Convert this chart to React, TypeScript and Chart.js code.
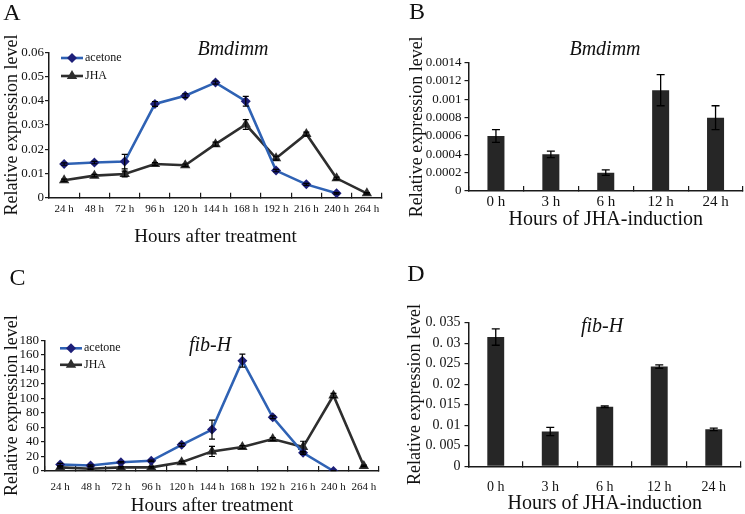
import React, { useEffect, useRef } from 'react';
import { Chart, registerables } from 'chart.js';

Chart.register(...registerables);

const SERIF = "'Liberation Serif', 'Times New Roman', Times, serif";

// ---------- Panel A : Bmdimm, time course ----------
const A_HOURS = ['24 h', '48 h', '72 h', '96 h', '120 h', '144 h', '168 h', '192 h', '216 h', '240 h', '264 h'];
const A_ACETONE = [0.0139, 0.0145, 0.0149, 0.0387, 0.0421, 0.0475, 0.0398, 0.0112, 0.0055, 0.0018, null];
const A_ACETONE_ERR = [0.0005, 0.0005, 0.003, 0.001, 0.0008, 0.0006, 0.002, 0.0005, 0.0004, 0.0003, null];
const A_JHA = [0.0072, 0.0091, 0.0098, 0.0139, 0.0134, 0.0221, 0.0302, 0.0163, 0.0263, 0.008, 0.0018];
const A_JHA_ERR = [0.0005, 0.0005, 0.0012, 0.0006, 0.0005, 0.0008, 0.002, 0.0008, 0.0008, 0.0005, 0.0003];
const A_Y_VALUES = [0, 0.01, 0.02, 0.03, 0.04, 0.05, 0.06];
const A_Y_LABELS = ['0', '0.01', '0.02', '0.03', '0.04', '0.05', '0.06'];

// ---------- Panel B : Bmdimm, JHA induction ----------
const B_HOURS = ['0 h', '3 h', '6 h', '12 h', '24 h'];
const B_VALUES = [0.0006, 0.0004, 0.0002, 0.0011, 0.0008];
const B_ERR = [0.00007, 0.000035, 0.00003, 0.00017, 0.00013];
const B_Y_VALUES = [0, 0.0002, 0.0004, 0.0006, 0.0008, 0.001, 0.0012, 0.0014];
const B_Y_LABELS = ['0', '0.0002', '0.0004', '0.0006', '0.0008', '0.001', '0.0012', '0.0014'];

// ---------- Panel C : fib-H, time course ----------
const C_HOURS = ['24 h', '48 h', '72 h', '96 h', '120 h', '144 h', '168 h', '192 h', '216 h', '240 h', '264 h'];
const C_ACETONE = [9, 7.5, 12, 14, 36, 57, 152, 74, 25, 0, null];
const C_ACETONE_ERR = [1.5, 1, 1, 1, 2, 13, 9, 2, 2, 0.5, null];
const C_JHA = [5, 3, 5, 5, 12, 27, 33, 44, 33, 104, 7];
const C_JHA_ERR = [1, 1, 1, 1, 1.5, 7, 2, 2, 8, 3, 1];
const C_Y_VALUES = [0, 20, 40, 60, 80, 100, 120, 140, 160, 180];
const C_Y_LABELS = ['0', '20', '40', '60', '80', '100', '120', '140', '160', '180'];

// ---------- Panel D : fib-H, JHA induction ----------
const D_HOURS = ['0 h', '3 h', '6 h', '12 h', '24 h'];
const D_VALUES = [0.0315, 0.0085, 0.0145, 0.0243, 0.009];
const D_ERR = [0.002, 0.001, 0.0002, 0.0004, 0.0003];
const D_Y_VALUES = [0, 0.005, 0.01, 0.015, 0.02, 0.025, 0.03, 0.035];
const D_Y_LABELS = ['0', '0. 005', '0. 01', '0. 015', '0. 02', '0. 025', '0. 03', '0. 035'];

const SERIES_NAMES = ['acetone', 'JHA'];
const Y_TITLE = 'Relative expression level';
const X_TITLE_TIME = 'Hours after treatment';
const X_TITLE_INDUCTION = 'Hours of JHA-induction';

const AXIS_COLOR = '#1a1a1a';
const TEXT_COLOR = '#111111';
const ACETONE_LINE = '#2f62b4';
const ACETONE_MARK = '#1d1f78';
const JHA_COLOR = '#2e2e2e';
const BAR_COLOR = '#262626';

function errorBarsPlugin(cap: number, width: number) {
  return {
    id: 'errorBars',
    afterDatasetsDraw(chart: any) {
      const { ctx } = chart;
      const yScale = chart.scales.y;
      chart.data.datasets.forEach((ds: any, i: number) => {
        const errs = ds.errors;
        if (!errs) return;
        const meta = chart.getDatasetMeta(i);
        ctx.save();
        ctx.strokeStyle = '#000';
        ctx.lineWidth = width;
        meta.data.forEach((el: any, j: number) => {
          const v = ds.data[j];
          const e = errs[j];
          if (v == null || e == null || !e) return;
          const x = el.x;
          const top = yScale.getPixelForValue(v + e);
          const bot = yScale.getPixelForValue(Math.max(v - e, yScale.min));
          ctx.beginPath();
          ctx.moveTo(x, top);
          ctx.lineTo(x, bot);
          ctx.moveTo(x - cap, top);
          ctx.lineTo(x + cap, top);
          if (v - e > yScale.min) {
            ctx.moveTo(x - cap, bot);
            ctx.lineTo(x + cap, bot);
          }
          ctx.stroke();
        });
        ctx.restore();
      });
    },
  };
}

function drawMarker(ctx: CanvasRenderingContext2D, style: string, x: number, y: number, r: number, color: string) {
  ctx.beginPath();
  if (style === 'rectRot') {
    ctx.moveTo(x, y - r);
    ctx.lineTo(x + r, y);
    ctx.lineTo(x, y + r);
    ctx.lineTo(x - r, y);
  } else {
    const h = r * 1.5;
    const w = r * Math.sqrt(3);
    ctx.moveTo(x, y - r);
    ctx.lineTo(x + w / 2, y - r + h);
    ctx.lineTo(x - w / 2, y - r + h);
  }
  ctx.closePath();
  ctx.fillStyle = color;
  ctx.fill();
}

function insideLegendPlugin(left: number, top: number, rowGap: number) {
  return {
    id: 'insideLegend',
    afterDraw(chart: any) {
      const { ctx, chartArea } = chart;
      chart.data.datasets.forEach((ds: any, i: number) => {
        const y = chartArea.top + top + i * rowGap;
        const x0 = chartArea.left + left;
        const x1 = x0 + 22;
        ctx.save();
        ctx.strokeStyle = ds.borderColor;
        ctx.lineWidth = ds.borderWidth;
        ctx.beginPath();
        ctx.moveTo(x0, y);
        ctx.lineTo(x1, y);
        ctx.stroke();
        drawMarker(ctx, ds.pointStyle, (x0 + x1) / 2, y, ds.pointRadius, ds.pointBackgroundColor);
        ctx.fillStyle = TEXT_COLOR;
        ctx.font = `12px ${SERIF}`;
        ctx.textAlign = 'left';
        ctx.textBaseline = 'middle';
        ctx.fillText(ds.label, x1 + 2, y);
        ctx.restore();
      });
    },
  };
}

type TextItem = { text: string; x: number; y: number; font: string };

function panelTextPlugin(items: TextItem[]) {
  return {
    id: 'panelText',
    afterDraw(chart: any) {
      const { ctx } = chart;
      ctx.save();
      items.forEach((it) => {
        ctx.font = it.font;
        ctx.fillStyle = TEXT_COLOR;
        ctx.textAlign = 'center';
        ctx.textBaseline = 'middle';
        ctx.fillText(it.text, it.x, it.y);
      });
      ctx.restore();
    },
  };
}

type AxisSpec = {
  yValues: number[];
  yLabels: string[];
  yWidth: number;
  yTickSize: number;
  yTickPad: number;
  yTitlePad: number;
  xHeight: number;
  xTickSize: number;
  xTickPad: number;
  xTitle: string;
  xTitleSize: number;
  xTitlePad: number;
};

function makeScales(s: AxisSpec) {
  return {
    x: {
      type: 'category',
      offset: true,
      grid: {
        display: true,
        offset: true,
        drawOnChartArea: false,
        drawTicks: true,
        tickLength: -5,
        color: AXIS_COLOR,
        lineWidth: 1.2,
      },
      border: { display: true, color: AXIS_COLOR, width: 1.5 },
      ticks: {
        autoSkip: false,
        maxRotation: 0,
        minRotation: 0,
        color: TEXT_COLOR,
        padding: s.xTickPad,
        font: { family: SERIF, size: s.xTickSize },
      },
      title: {
        display: true,
        text: s.xTitle,
        color: TEXT_COLOR,
        font: { family: SERIF, size: s.xTitleSize },
        padding: { top: 0, bottom: s.xTitlePad },
      },
      afterFit: (scale: any) => {
        scale.height = s.xHeight;
      },
    },
    y: {
      type: 'linear',
      min: s.yValues[0],
      max: s.yValues[s.yValues.length - 1],
      grid: {
        display: true,
        drawOnChartArea: false,
        drawTicks: true,
        tickLength: 4,
        color: AXIS_COLOR,
        lineWidth: 1.2,
      },
      border: { display: true, color: AXIS_COLOR, width: 1.5 },
      afterBuildTicks: (scale: any) => {
        scale.ticks = s.yValues.map((v) => ({ value: v }));
      },
      ticks: {
        autoSkip: false,
        color: TEXT_COLOR,
        padding: s.yTickPad,
        font: { family: SERIF, size: s.yTickSize },
        callback: (_v: any, i: number) => s.yLabels[i],
      },
      title: {
        display: true,
        text: Y_TITLE,
        color: TEXT_COLOR,
        font: { family: SERIF, size: 18 },
        padding: { top: s.yTitlePad, bottom: 0 },
      },
      afterFit: (scale: any) => {
        scale.width = s.yWidth;
      },
    },
  };
}

function lineConfig(
  cats: string[],
  acetone: (number | null)[],
  acetoneErr: (number | null)[],
  jha: number[],
  jhaErr: number[],
  axes: AxisSpec,
  padTop: number,
  padRight: number,
  legendPos: [number, number, number],
  texts: TextItem[]
) {
  return {
    type: 'line',
    data: {
      labels: cats,
      datasets: [
        {
          label: SERIES_NAMES[0],
          data: acetone,
          errors: acetoneErr,
          borderColor: ACETONE_LINE,
          borderWidth: 2.6,
          pointStyle: 'rectRot',
          pointRadius: 5,
          pointBackgroundColor: ACETONE_MARK,
          pointBorderColor: ACETONE_MARK,
          pointBorderWidth: 0,
          tension: 0,
          spanGaps: false,
        },
        {
          label: SERIES_NAMES[1],
          data: jha,
          errors: jhaErr,
          borderColor: JHA_COLOR,
          borderWidth: 2.6,
          pointStyle: 'triangle',
          pointRadius: 6,
          pointBackgroundColor: JHA_COLOR,
          pointBorderColor: JHA_COLOR,
          pointBorderWidth: 0,
          tension: 0,
        },
      ],
    },
    options: {
      responsive: false,
      maintainAspectRatio: false,
      animation: false,
      layout: { padding: { left: 0, top: padTop, right: padRight, bottom: 0 } },
      plugins: { legend: { display: false }, tooltip: { enabled: false }, title: { display: false } },
      scales: makeScales(axes),
    },
    plugins: [errorBarsPlugin(3, 1.2), insideLegendPlugin(legendPos[0], legendPos[1], legendPos[2]), panelTextPlugin(texts)],
  };
}

function barConfig(
  cats: string[],
  values: number[],
  errs: number[],
  axes: AxisSpec,
  padTop: number,
  padRight: number,
  texts: TextItem[]
) {
  return {
    type: 'bar',
    data: {
      labels: cats,
      datasets: [
        {
          label: 'JHA-induction',
          data: values,
          errors: errs,
          backgroundColor: BAR_COLOR,
          borderWidth: 0,
          barPercentage: 0.31,
          categoryPercentage: 1,
        },
      ],
    },
    options: {
      responsive: false,
      maintainAspectRatio: false,
      animation: false,
      layout: { padding: { left: 0, top: padTop, right: padRight, bottom: 0 } },
      plugins: { legend: { display: false }, tooltip: { enabled: false }, title: { display: false } },
      scales: makeScales(axes),
    },
    plugins: [errorBarsPlugin(4, 1.3), panelTextPlugin(texts)],
  };
}

const italic = (size: number) => `italic ${size}px ${SERIF}`;
const upright = (size: number) => `${size}px ${SERIF}`;

function ChartPanel(props: { left: number; top: number; width: number; height: number; build: () => any }) {
  const ref = useRef<HTMLCanvasElement | null>(null);
  useEffect(() => {
    const chart = new Chart(ref.current as HTMLCanvasElement, props.build());
    return () => chart.destroy();
  }, []);
  return (
    <canvas
      ref={ref}
      width={props.width}
      height={props.height}
      style={{ position: 'absolute', left: props.left, top: props.top, width: props.width, height: props.height }}
    />
  );
}

export default function App() {
  return (
    <div style={{ position: 'fixed', left: 0, top: 0, width: 745, height: 514, background: '#ffffff', overflow: 'hidden' }}>
      <ChartPanel
        left={0}
        top={0}
        width={400}
        height={257}
        build={() =>
          lineConfig(
            A_HOURS,
            A_ACETONE,
            A_ACETONE_ERR,
            A_JHA,
            A_JHA_ERR,
            {
              yValues: A_Y_VALUES,
              yLabels: A_Y_LABELS,
              yWidth: 49,
              yTickSize: 13,
              yTickPad: 1,
              yTitlePad: 1,
              xHeight: 59.3,
              xTickSize: 11,
              xTickPad: 9.7,
              xTitle: X_TITLE_TIME,
              xTitleSize: 19,
              xTitlePad: 8.6,
            },
            52.3,
            18,
            [12, 5.7, 18],
            [
              { text: 'A', x: 12, y: 14, font: upright(24) },
              { text: 'Bmdimm', x: 233, y: 50, font: italic(20) },
            ]
          )
        }
      />
      <ChartPanel
        left={400}
        top={0}
        width={345}
        height={257}
        build={() =>
          barConfig(
            B_HOURS,
            B_VALUES,
            B_ERR,
            {
              yValues: B_Y_VALUES,
              yLabels: B_Y_LABELS,
              yWidth: 68.5,
              yTickSize: 13,
              yTickPad: 3,
              yTitlePad: 6,
              xHeight: 66,
              xTickSize: 15,
              xTickPad: 7,
              xTitle: X_TITLE_INDUCTION,
              xTitleSize: 20,
              xTitlePad: 25,
            },
            62.7,
            2,
            [
              { text: 'B', x: 17, y: 13, font: upright(24) },
              { text: 'Bmdimm', x: 205, y: 50, font: italic(20) },
            ]
          )
        }
      />
      <ChartPanel
        left={0}
        top={257}
        width={400}
        height={257}
        build={() =>
          lineConfig(
            C_HOURS,
            C_ACETONE,
            C_ACETONE_ERR,
            C_JHA,
            C_JHA_ERR,
            {
              yValues: C_Y_VALUES,
              yLabels: C_Y_LABELS,
              yWidth: 45,
              yTickSize: 13,
              yTickPad: 2,
              yTitlePad: 1,
              xHeight: 43,
              xTickSize: 11,
              xTickPad: 14.4,
              xTitle: X_TITLE_TIME,
              xTitleSize: 19,
              xTitlePad: -3,
            },
            83.3,
            21,
            [15, 8, 16.5],
            [
              { text: 'C', x: 17.5, y: 21.5, font: upright(24) },
              { text: 'fib-H', x: 210, y: 89, font: italic(20) },
            ]
          )
        }
      />
      <ChartPanel
        left={400}
        top={257}
        width={345}
        height={257}
        build={() =>
          barConfig(
            D_HOURS,
            D_VALUES,
            D_ERR,
            {
              yValues: D_Y_VALUES,
              yLabels: D_Y_LABELS,
              yWidth: 68.5,
              yTickSize: 14,
              yTickPad: 4,
              yTitlePad: 4,
              xHeight: 47.7,
              xTickSize: 14,
              xTickPad: 17.3,
              xTitle: X_TITLE_INDUCTION,
              xTitleSize: 20,
              xTitlePad: -2,
            },
            65.7,
            4,
            [
              { text: 'D', x: 16, y: 18, font: upright(24) },
              { text: 'fib-H', x: 202, y: 70, font: italic(20) },
            ]
          )
        }
      />
    </div>
  );
}
